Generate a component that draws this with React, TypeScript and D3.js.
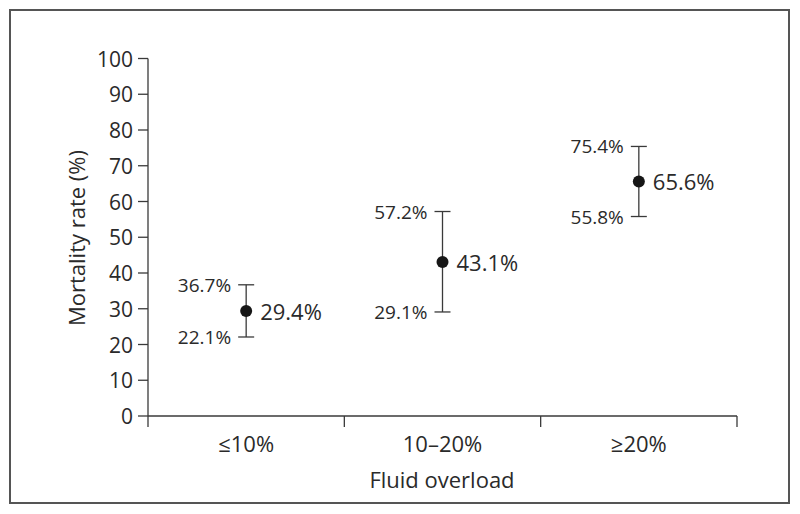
import * as d3 from "d3";

const categories = ["≤10%", "10–20%", "≥20%"];
const rates = [29.4, 43.1, 65.6];
const lowerCI = [22.1, 29.1, 55.8];
const upperCI = [36.7, 57.2, 75.4];
const yTicks = [0, 10, 20, 30, 40, 50, 60, 70, 80, 90, 100];

const width = 800;
const height = 514;
const font = "'Open Sans', 'Noto Sans', sans-serif";
const ink = "#2a2a2a";
const lineColor = "#3a3a3a";

const fmt = (v: number) => `${v.toFixed(1)}%`;

export default function App() {
	const x = d3.scaleBand<string>().domain(categories).range([148, 737]).padding(0);
	const y = d3.scaleLinear().domain([0, 100]).range([416, 58.5]);
	const edges = [...categories.map((c) => x(c) ?? 0), x.range()[1]];
	const capHalf = 8;

	return (
		<svg
			width={width}
			height={height}
			style={{ position: "absolute", left: 0, top: 0, background: "#fff" }}
			fontFamily={font}
		>
			<rect x={10} y={10} width={779} height={493} fill="none" stroke="#555" strokeWidth={2} />

			{/* y axis */}
			<line x1={148} x2={148} y1={y(100)} y2={y(0)} stroke={lineColor} strokeWidth={1.3} />
			{yTicks.map((t) => (
				<g key={t} transform={`translate(0,${y(t)})`}>
					<line x1={138} x2={148} stroke={lineColor} strokeWidth={1.3} />
					<text x={133} textAnchor="end" dominantBaseline="central" fontSize={21} fill={ink}>
						{t}
					</text>
				</g>
			))}
			<text
				transform={`translate(76,${238}) rotate(-90)`}
				textAnchor="middle"
				dominantBaseline="central"
				fontSize={22}
				fill={ink}
			>
				Mortality rate (%)
			</text>

			{/* x axis */}
			<line x1={148} x2={737} y1={y(0)} y2={y(0)} stroke={lineColor} strokeWidth={1.3} />
			{edges.map((e, i) => (
				<line key={i} x1={e} x2={e} y1={y(0)} y2={y(0) + 11} stroke={lineColor} strokeWidth={1.3} />
			))}
			{categories.map((c) => (
				<text
					key={c}
					x={(x(c) ?? 0) + x.bandwidth() / 2}
					y={452}
					textAnchor="middle"
					fontSize={22}
					fill={ink}
				>
					{c}
				</text>
			))}
			<text x={442} y={488} textAnchor="middle" fontSize={22} fill={ink}>
				Fluid overload
			</text>

			{/* points with confidence intervals */}
			{categories.map((c, i) => {
				const cx = (x(c) ?? 0) + x.bandwidth() / 2;
				return (
					<g key={c}>
						<line x1={cx} x2={cx} y1={y(upperCI[i])} y2={y(lowerCI[i])} stroke={lineColor} strokeWidth={1.3} />
						<line x1={cx - capHalf} x2={cx + capHalf} y1={y(upperCI[i])} y2={y(upperCI[i])} stroke={lineColor} strokeWidth={1.3} />
						<line x1={cx - capHalf} x2={cx + capHalf} y1={y(lowerCI[i])} y2={y(lowerCI[i])} stroke={lineColor} strokeWidth={1.3} />
						<circle cx={cx} cy={y(rates[i])} r={6} fill="#161616" />
						<text x={cx + 14} y={y(rates[i])} dominantBaseline="central" fontSize={22} fill={ink}>
							{fmt(rates[i])}
						</text>
						<text x={cx - 15} y={y(upperCI[i])} textAnchor="end" dominantBaseline="central" fontSize={19} fill={ink}>
							{fmt(upperCI[i])}
						</text>
						<text x={cx - 15} y={y(lowerCI[i])} textAnchor="end" dominantBaseline="central" fontSize={19} fill={ink}>
							{fmt(lowerCI[i])}
						</text>
					</g>
				);
			})}
		</svg>
	);
}
